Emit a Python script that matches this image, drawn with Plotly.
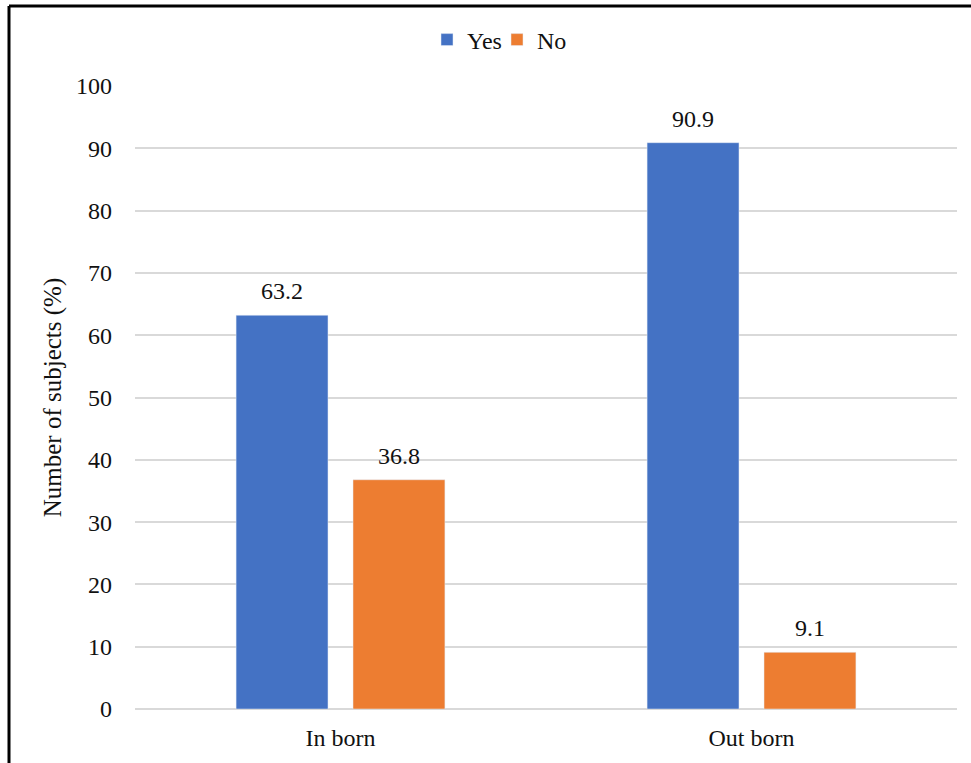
import plotly.graph_objects as go

categories = ["In born", "Out born"]
yes_values = [63.2, 90.9]
no_values = [36.8, 9.1]
y_ticks = [0, 10, 20, 30, 40, 50, 60, 70, 80, 90, 100]

W, H = 971, 763
L, R, T, B = 135, 14, 86, 54
pw, ph = W - L - R, H - T - B

font = dict(family="Liberation Serif", size=24, color="#111111")
title_font = dict(family="Liberation Serif", size=25, color="#111111")

BARGAP, GROUPGAP = 0.431, 0.214

fig = go.Figure()
series = [("Yes", yes_values, "#4472C4"), ("No", no_values, "#ED7D31")]
for name, vals, color in series:
    fig.add_trace(go.Bar(name=name, x=categories, y=vals, marker_color=color))

# value labels above each bar, centred on the bar's slot within its group
cat_px = pw / len(categories)
slot_px = cat_px * (1 - BARGAP) / len(series)
for i, (name, vals, color) in enumerate(series):
    shift = (i - (len(series) - 1) / 2) * slot_px
    for c, v in zip(categories, vals):
        fig.add_annotation(x=c, y=v, xref="x", yref="y", text=f"{v:.1f}",
                           showarrow=False, xanchor="center", yanchor="bottom",
                           xshift=shift, yshift=9, font=font)

def px_x(x):
    return (x - L) / pw

def px_y(y):
    return (H - B - y) / ph

# frame lines along the top and left edges
fig.add_shape(type="line", xref="paper", yref="paper",
              x0=px_x(9), x1=px_x(975), y0=px_y(6), y1=px_y(6),
              line=dict(color="black", width=3))
fig.add_shape(type="line", xref="paper", yref="paper",
              x0=px_x(9), x1=px_x(9), y0=px_y(6), y1=px_y(770),
              line=dict(color="black", width=3))

fig.update_layout(
    width=W, height=H,
    margin=dict(l=L, r=R, t=T, b=B),
    paper_bgcolor="white", plot_bgcolor="white",
    font=font,
    barmode="group", bargap=BARGAP, bargroupgap=GROUPGAP,
    showlegend=True,
    legend=dict(orientation="h", x=px_x(497), xanchor="center",
                y=px_y(40), yanchor="middle", font=font,
                itemwidth=30, entrywidth=25, tracegroupgap=0),
    xaxis=dict(showgrid=False, showline=False, ticks="", tickfont=font,
               ticklabelstandoff=12),
    yaxis=dict(range=[0, 100], tickvals=y_ticks, showgrid=True,
               gridcolor="#d9d9d9", gridwidth=1.5, zeroline=True,
               zerolinecolor="#d9d9d9", zerolinewidth=1.5,
               showline=False, ticks="", ticklabelstandoff=22, tickfont=font,
               title=dict(text="Number of subjects (%)", font=title_font,
                          standoff=7)),
)

fig.write_html("out.html")
